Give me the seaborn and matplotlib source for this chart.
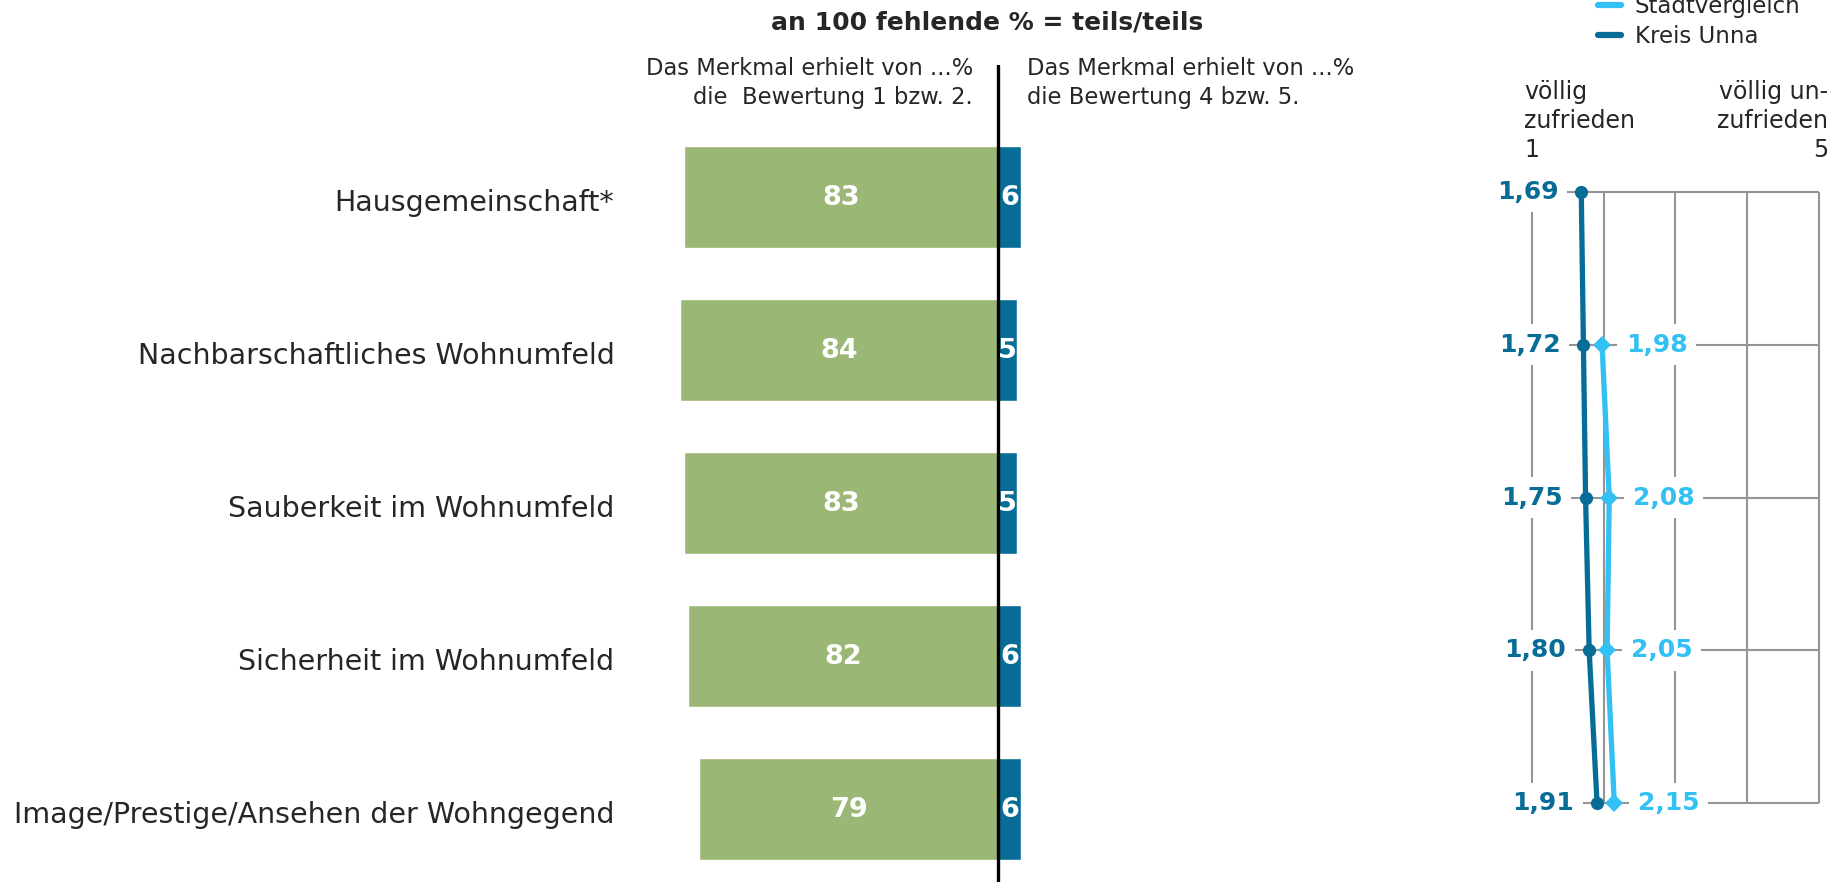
import numpy as np
import pandas as pd
import matplotlib
matplotlib.use("Agg")
import matplotlib.pyplot as plt
import matplotlib.transforms as mtransforms
import seaborn as sns
from matplotlib.lines import Line2D

# ---------------- data ----------------
categories = [
    "Hausgemeinschaft*",
    "Nachbarschaftliches Wohnumfeld",
    "Sauberkeit im Wohnumfeld",
    "Sicherheit im Wohnumfeld",
    "Image/Prestige/Ansehen der Wohngegend",
]
pct_good = [83, 84, 83, 82, 79]          # Bewertung 1 bzw. 2
pct_bad = [6, 5, 5, 6, 6]                # Bewertung 4 bzw. 5
kreis_mean = [1.69, 1.72, 1.75, 1.80, 1.91]
stadt_mean = [np.nan, 1.98, 2.08, 2.05, 2.15]
scale_ticks = [1, 2, 3, 4, 5]
series_names = ["Stadtvergleich", "Kreis Unna"]

title = "an 100 fehlende % = teils/teils"
sub_left = "Das Merkmal erhielt von ...%\ndie  Bewertung 1 bzw. 2."
sub_right = "Das Merkmal erhielt von ...%\ndie Bewertung 4 bzw. 5."
head_left = "völlig\nzufrieden\n1"
head_right = "völlig un-\nzufrieden\n5"

# ---------------- style ----------------
GREEN = "#9BB776"
BLUE = "#076C96"
DARK = "#076C96"
LIGHT = "#33C0F4"
GRID = "#959595"

sns.set_style("white")
plt.rcParams["font.family"] = ["DejaVu Sans"]

W, H = 1843, 882
fig = plt.figure(figsize=(W / 100, H / 100), dpi=100)

# ---------------- diverging bars ----------------
ax = fig.add_axes([620 / W, 0, 756 / W, (H - 65) / H])
df = pd.DataFrame({"cat": categories, "good": pct_good, "bad": pct_bad})
df["good_neg"] = -df["good"]
sns.barplot(data=df, x="good_neg", y="cat", color=GREEN, saturation=1,
            width=0.667, orient="h", ax=ax)
sns.barplot(data=df, x="bad", y="cat", color=BLUE, saturation=1,
            width=0.667, orient="h", ax=ax)
ax.set_xlim(-100, 100)
ax.set_ylim(4.479, -0.861)
ax.axvline(0, color="black", lw=2.4, zorder=5)
for i, (g, b) in enumerate(zip(pct_good, pct_bad)):
    ax.text(-g / 2, i + 0.01, str(g), color="white", ha="center", va="center",
            fontsize=19.5, fontweight="bold")
    ax.text(b / 2, i + 0.01, str(b), color="white", ha="center", va="center",
            fontsize=19.5, fontweight="bold", zorder=6)
ax.set_xticks([])
ax.set_yticks(range(len(categories)))
ax.set_yticklabels(categories, fontsize=20.5)
ax.tick_params(axis="y", length=0, pad=4)
shift = mtransforms.ScaledTranslation(0, -3.5 / 100, fig.dpi_scale_trans)
for lab in ax.get_yticklabels():
    lab.set_transform(lab.get_transform() + shift)
ax.set_xlabel("")
ax.set_ylabel("")
sns.despine(ax=ax, left=True, bottom=True)

# ---------------- mean profile ----------------
ax2 = fig.add_axes([1460 / W, 0, 380.3 / W, (H - 65) / H])
rows = list(range(len(categories)))
ax2.vlines(scale_ticks, 0, len(categories) - 1, color=GRID, lw=1.5, zorder=1)
ax2.hlines(rows, scale_ticks[0], scale_ticks[-1], color=GRID, lw=1.5, zorder=1)
sns.lineplot(x=stadt_mean, y=rows, sort=False, estimator=None, color=LIGHT,
             lw=3.8, marker="D", markersize=9, markeredgewidth=0, ax=ax2,
             zorder=4)
sns.lineplot(x=kreis_mean, y=rows, sort=False, estimator=None, color=DARK,
             lw=3.8, marker="o", markersize=9.5, markeredgewidth=0, ax=ax2,
             zorder=5)
bb = dict(boxstyle="square,pad=0.35", fc="white", ec="none")
for i, v in enumerate(kreis_mean):
    ax2.annotate(f"{v:.2f}".replace(".", ","), xy=(v, i), xytext=(-16.5, 0),
                 textcoords="offset points", ha="right", va="center",
                 color=DARK, fontsize=18, fontweight="bold", bbox=bb,
                 zorder=3)
for i, v in enumerate(stadt_mean):
    if np.isnan(v):
        continue
    ax2.annotate(f"{v:.2f}".replace(".", ","), xy=(v, i), xytext=(17, 0),
                 textcoords="offset points", ha="left", va="center",
                 color=LIGHT, fontsize=18, fontweight="bold", bbox=bb,
                 zorder=3)
ax2.set_xlim(0, 5.3)
ax2.set_ylim(4.515, -0.829)
ax2.axis("off")

# ---------------- texts ----------------
fig.text(987 / W, 1 - 22 / H, title, ha="center", va="center",
         fontsize=18, fontweight="bold")
fig.text(973 / W, 1 - 83 / H, sub_left, ha="right", va="center",
         multialignment="right", fontsize=16.3, linespacing=1.3)
fig.text(1027 / W, 1 - 83 / H, sub_right, ha="left", va="center",
         multialignment="left", fontsize=16.3, linespacing=1.3)
fig.text(1524 / W, 1 - 121 / H, head_left, ha="left", va="center",
         multialignment="left", fontsize=17, linespacing=1.25)
fig.text(1828 / W, 1 - 121 / H, head_right, ha="right", va="center",
         multialignment="right", fontsize=17, linespacing=1.25)

handles = [Line2D([], [], color=LIGHT, lw=4.5), Line2D([], [], color=DARK, lw=4.5)]
fig.legend(handles, series_names, loc="upper left",
           bbox_to_anchor=(1598 / W, 1 + 5 / H), frameon=False, fontsize=16.5,
           handlelength=1.0, handletextpad=0.6, labelspacing=0.3,
           borderpad=0, borderaxespad=0)

fig.savefig("out.png", dpi=100)
